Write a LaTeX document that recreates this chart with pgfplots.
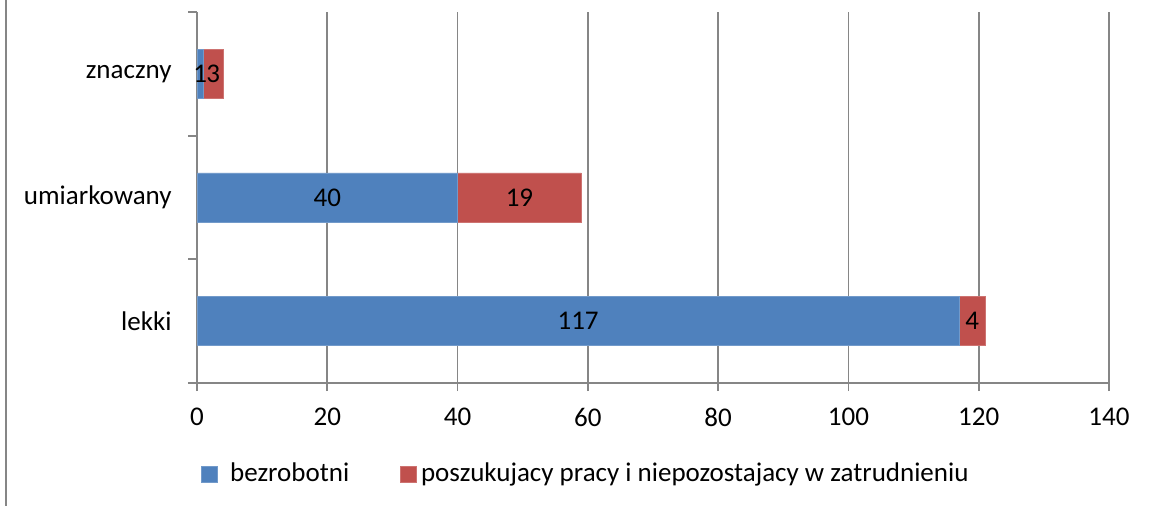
\documentclass[border=0pt]{standalone}
\usepackage{pgfplots}
\pgfplotsset{compat=1.18}
\usepackage{fontspec}
\setmainfont{Carlito}
\definecolor{cblue}{HTML}{4F81BD}
\definecolor{cred}{HTML}{C0504D}
\definecolor{cgrid}{HTML}{868686}
\begin{document}
\fontsize{13.5bp}{16bp}\selectfont
\begin{tikzpicture}
\begin{axis}[
  at={(98.5bp,61.5bp)}, anchor=south west,
  scale only axis,
  width=456bp, height=185.5bp,
  xbar stacked, bar width=24.5bp,
  xmin=0, xmax=140, ymin=-0.5, ymax=2.5,
  xtick={0,20,...,140},
  ytick={0,1,2},
  yticklabels={lekki,umiarkowany,znaczny},
  minor ytick={-0.5,0.5,1.5,2.5},
  axis x line=bottom, axis y line=left,
  axis line style={cgrid, line width=0.9bp, -},
  x axis line style={shorten <=-4.5bp},
  xmajorgrids, major grid style={cgrid, line width=0.9bp},
  major x tick style={cgrid, line width=0.9bp},
  minor y tick style={cgrid, line width=0.9bp},
  major y tick style={draw=none},
  tick align=outside,
  major tick length=4bp, minor tick length=4.5bp,
  /pgf/number format/assume math mode=true,
  tick label style={font=\fontsize{13.5bp}{16bp}\selectfont, text=black},
  xticklabel style={yshift=-4bp},
  yticklabel style={xshift=-4bp},
  point meta=explicit symbolic,
  nodes near coords,
  every node near coord/.append style={anchor=center, text=black,
    font=\fontsize{13.5bp}{16bp}\selectfont},
  legend style={at={(0.4276,-0.2453)}, anchor=center, draw=none,
    legend columns=2, font=\fontsize{13.5bp}{16bp}\selectfont,
    /tikz/every even column/.append style={column sep=23.5bp}},
  legend image code/.code={\fill[#1] (0bp,-4bp) rectangle (8bp,4bp);},
  clip=false,
]
\addplot[fill=cblue, draw=cblue!80!white] coordinates {(117,0) [117] (40,1) [40] (1,2) [1]};
\addplot[fill=cred, draw=cred!80!white] coordinates {(4,0) [4] (19,1) [19] (3,2) [3]};
\legend{\hspace{4bp}bezrobotni, poszukujacy pracy i niepozostajacy w zatrudnieniu}
\end{axis}
\draw[cgrid, line width=1bp] (3bp,0bp) -- (3bp,253bp);
\pgfresetboundingbox
\path[use as bounding box] (0,0) rectangle (577bp,253bp);
\end{tikzpicture}
\end{document}
